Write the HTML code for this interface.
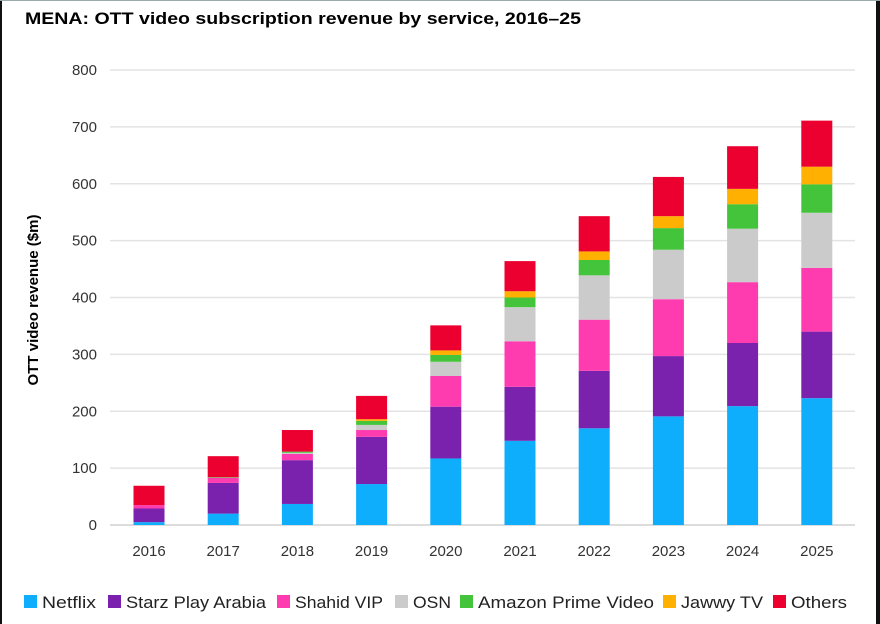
<!DOCTYPE html>
<html><head><meta charset="utf-8"><style>
body{margin:0;background:#fff;font-family:"Liberation Sans",sans-serif;}
#wrap{position:relative;width:880px;height:624px;overflow:hidden;background:#fff;}
</style></head><body>
<div id="wrap">
<svg id="chart" width="880" height="624"></svg>
</div>
<script>
const years=["2016","2017","2018","2019","2020","2021","2022","2023","2024","2025"];
const netflix=[5,20,37,72,117,148,170,191,209,223];
const starz=[24,54,77,83,91,95,101,106,111,117];
const shahid=[6,9,11,12,54,80,90,100,107,112];
const osn=[0,0,2,9,25,60,78,87,94,97];
const amazon=[0,1,2,7,12,17,27,38,43,50];
const jawwy=[0,0,0,3,8,11,15,21,27,31];
const others=[34,37,38,41,44,53,62,69,75,81];
const yTicks=[0,100,200,300,400,500,600,700,800];
const seriesNames=["Netflix","Starz Play Arabia","Shahid VIP","OSN","Amazon Prime Video","Jawwy TV","Others"];
const seriesData=[netflix,starz,shahid,osn,amazon,jawwy,others];
const colors=["#0eaefc","#7a22ae","#ff3bb0","#cbcbcb","#44c43a","#ffb000","#eb0030"];
const NS="http://www.w3.org/2000/svg";
const svg=document.getElementById('chart');
function y(v){return 525-v*(455/800);}
function x(i){return 149+i*74.2;}
function mk(t,a){const e=document.createElementNS(NS,t);for(const k in a)e.setAttribute(k,a[k]);svg.appendChild(e);return e;}
const b1=mk('rect',{x:0,y:0,width:2,height:624,fill:'#111'});


const b2=mk('rect',{x:876,y:0,width:4,height:624,fill:'#111'});


const b3=mk('rect',{x:0,y:0,width:880,height:1,fill:'#9aa'});


const title=mk('text',{x:25,y:24,'font-size':'17','font-weight':'bold',fill:'#000',textLength:556,lengthAdjust:'spacingAndGlyphs'});
title.textContent="MENA: OTT video subscription  revenue by service, 2016–25";


yTicks.forEach(t=>{
  const l=mk('line',{x1:110,x2:855,y1:y(t),y2:y(t),stroke:t===0?'#d0d0d0':'#e3e3e3','stroke-width':1.5});
  
  
  const tx=mk('text',{x:97,y:y(t)+5,'text-anchor':'end','font-size':'15',fill:'#333'});
  tx.textContent=t;
  
  
});
const yt=mk('text',{x:38,y:300,'text-anchor':'middle','font-size':'15','font-weight':'bold',fill:'#000',transform:'rotate(-90 38 300)'});
yt.textContent="OTT video revenue ($m)";


years.forEach((yr,i)=>{
  let cum=0;
  seriesData.forEach((s,j)=>{
    const v=s[i];if(v<=0)return;
    const r=mk('rect',{x:x(i)-15.5,y:y(cum+v),width:31,height:y(cum)-y(cum+v),fill:colors[j]});
    
    
    cum+=v;
  });
  const tx=mk('text',{x:x(i),y:556,'text-anchor':'middle','font-size':'15',fill:'#333'});
  tx.textContent=yr;
  
  
});
const lx=[24,108,277,395,460,663,773];
const lw=[54,140,88,38,176,82,56];
seriesNames.forEach((n,j)=>{
  const r=mk('rect',{x:lx[j],y:595,width:13,height:13,fill:colors[j]});
  
  
  const t=mk('text',{x:lx[j]+18,y:608,'font-size':'17',fill:'#222',textLength:lw[j],lengthAdjust:'spacingAndGlyphs'});
  t.textContent=n;
  
  
});
</script>
</body></html>
